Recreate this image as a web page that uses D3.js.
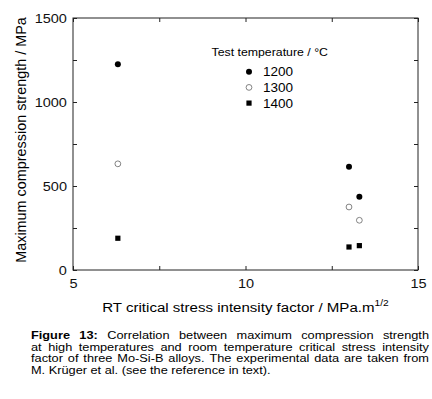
<!DOCTYPE html>
<html>
<head>
<meta charset="utf-8">
<script src="https://cdn.jsdelivr.net/npm/d3@7"></script>
<style>
  body { margin: 0; background: #fff; }
  svg { display: block; font-family: 'Liberation Sans', Arial, sans-serif; }
</style>
</head>
<body>
<svg id="chart" width="432" height="399"></svg>
<script>
// data
const toughness = [6.3, 13.0, 13.3]
const temperatures = ['1200', '1300', '1400']
const strength1200 = [1225, 615, 436]
const strength1300 = [632, 375, 296]
const strength1400 = [189, 137, 145]
const xTicks = [5, 7.5, 10, 12.5, 15]
const yTicks = [0, 250, 500, 750, 1000, 1250, 1500]

const captionLines = [
    'Figure 13: Correlation between maximum compression strength',
    'at high temperatures and room temperature critical stress intensity',
    'factor of three Mo-Si-B alloys. The experimental data are taken from',
    'M. Krüger et al. (see the reference in text).'
]

// the original figure is a little wider than tall, so horizontal text is stretched
const sx = 1.1

const margin = { top: 18, right: 14, bottom: 129, left: 73 }
const width = 432 - margin.left - margin.right
const height = 399 - margin.top - margin.bottom

const svg = d3.select('#chart')
const g = svg.append('g').attr('transform', `translate(${margin.left}, ${margin.top})`)

const x = d3.scaleLinear().domain([5, 15]).range([0, width])
const y = d3.scaleLinear().domain([0, 1500]).range([height, 0])

const fmt = d => Number.isInteger(d) && (d % 5 === 0) ? d : ''
const yFmt = d => d % 500 === 0 ? d : ''

function styleAxis(sel) {
    sel.select('.domain').remove()
    sel.selectAll('.tick line').attr('stroke', '#222')
    sel.selectAll('.tick text')
        .attr('fill', '#111')
        .attr('transform', `scale(${sx}, 1)`)
        .style('font-size', '13.2px')
        .style('font-family', "'Liberation Sans', Arial, sans-serif")
}

g.append('g')
    .attr('transform', `translate(0, ${height})`)
    .call(d3.axisBottom(x).tickValues(xTicks).tickFormat(fmt).tickSize(-4).tickPadding(8.5))
    .call(styleAxis)

g.append('g')
    .call(d3.axisTop(x).tickValues(xTicks).tickFormat('').tickSize(-4))
    .call(styleAxis)

g.append('g')
    .call(d3.axisLeft(y).tickValues(yTicks).tickFormat(yFmt).tickSize(-4).tickPadding(5.5))
    .call(styleAxis)

g.append('g')
    .attr('transform', `translate(${width}, 0)`)
    .call(d3.axisRight(y).tickValues(yTicks).tickFormat('').tickSize(-4))
    .call(styleAxis)

// frame
g.append('rect')
    .attr('width', width)
    .attr('height', height)
    .attr('fill', 'none')
    .attr('stroke', '#222')
    .attr('stroke-width', 1)

// markers
const series = [
    { name: temperatures[0], values: strength1200, shape: 'filled' },
    { name: temperatures[1], values: strength1300, shape: 'open' },
    { name: temperatures[2], values: strength1400, shape: 'square' }
]

function drawMarker(sel, shape) {
    if (shape === 'square') {
        sel.append('rect')
            .attr('x', -2.6).attr('y', -2.6)
            .attr('width', 5.2).attr('height', 5.2)
            .attr('fill', '#000')
    } else if (shape === 'open') {
        sel.append('circle')
            .attr('r', 2.9)
            .attr('fill', '#fff')
            .attr('stroke', '#666')
            .attr('stroke-width', 0.8)
    } else {
        sel.append('circle')
            .attr('r', 3)
            .attr('fill', '#000')
    }
}

series.forEach(s => {
    g.selectAll(null)
        .data(s.values.map((v, i) => [toughness[i], v]))
        .join('g')
        .attr('transform', d => `translate(${x(d[0])}, ${y(d[1])})`)
        .each(function () { drawMarker(d3.select(this), s.shape) })
})

// legend
const legend = svg.append('g').attr('transform', 'translate(211.5, 56)')
legend.append('text')
    .attr('transform', `scale(${sx}, 1)`)
    .style('font-size', '11.2px')
    .text('Test temperature / °C')

series.forEach((s, i) => {
    const row = legend.append('g').attr('transform', `translate(37.5, ${15.7 + i * 15.7})`)
    drawMarker(row, s.shape)
    row.append('text')
        .attr('transform', `translate(14, 4.6) scale(${sx}, 1)`)
        .style('font-size', '12.3px')
        .text(s.name)
})

// axis titles
svg.append('text')
    .attr('transform', 'translate(26, 140) rotate(-90)')
    .attr('text-anchor', 'middle')
    .style('font-size', '14.4px')
    .text('Maximum compression strength / MPa')

const xTitle = svg.append('text')
    .attr('transform', `translate(${margin.left + width / 2}, 311.5) scale(${sx}, 1)`)
    .attr('text-anchor', 'middle')
    .style('font-size', '13.7px')
xTitle.append('tspan').text('RT critical stress intensity factor / MPa.m')
xTitle.append('tspan').attr('dy', -6).style('font-size', '9.3px').text('1/2')

// caption, justified line by line
const capLeft = 31
const capRight = 429
const capWidth = (capRight - capLeft) / sx
const cap = svg.append('g')
    .attr('transform', `translate(${capLeft}, 0) scale(${sx}, 1)`)
    .style('font-size', '11.6px')

captionLines.forEach((line, li) => {
    const words = line.split(' ')
    const baseline = 339.5 + li * 11.45
    const nodes = words.map((w, wi) => cap.append('text')
        .attr('y', baseline)
        .style('font-weight', li === 0 && wi < 2 ? 'bold' : 'normal')
        .text(w))
    const widths = nodes.map(n => n.node().getComputedTextLength())
    const total = d3.sum(widths)
    const last = li === captionLines.length - 1
    const gap = last ? 3.2 : (capWidth - total) / (words.length - 1)
    let cx = 0
    nodes.forEach((n, i) => {
        n.attr('x', cx)
        cx += widths[i] + gap
    })
})
</script>
</body>
</html>
